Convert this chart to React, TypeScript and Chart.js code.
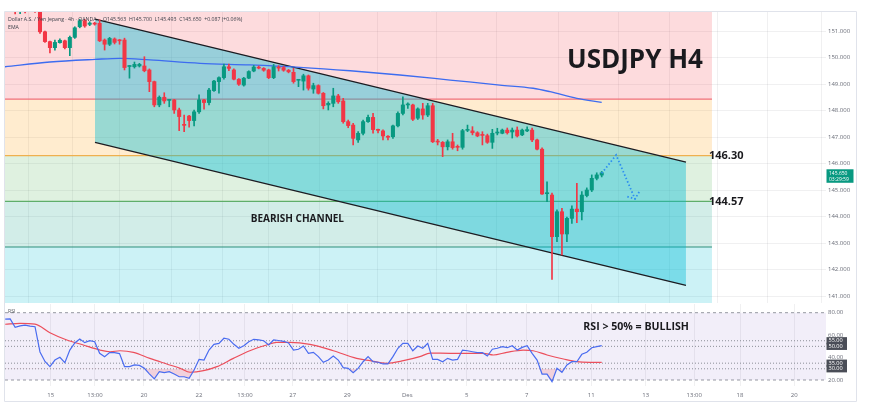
import React, { useEffect, useRef } from "react";
import { Chart, registerables } from "chart.js";

Chart.register(...registerables);

const FONT = "'Open Sans', 'Liberation Sans', sans-serif";

// ---------------- candle data (4h bars, bar number starts at FIRST_CANDLE) ----------------
const FIRST_CANDLE = 3;
const opens = [
  151.95, 151.85, 151.92, 151.8, 151.95, 151.85, 150.97, 150.6, 150.37, 150.56,
  150.63, 150.37, 150.76, 151.16, 151.39, 151.25, 151.29, 151.29, 150.66, 150.5,
  150.7, 150.66, 150.66, 149.66, 149.65, 149.68, 149.68, 149.53, 149.09, 148.21,
  148.5, 148.38, 148.4, 148.02, 147.47, 147.79, 147.62, 147.95, 148.4, 148.3,
  148.75, 149.09, 149.24, 149.65, 149.53, 149.18, 148.96, 149.22, 149.49, 149.63,
  149.59, 149.53, 149.24, 149.62, 149.62, 149.52, 149.44, 149.14, 149.11, 149.31,
  148.81, 148.94, 148.65, 148.21, 148.27, 148.55, 148.36, 147.58, 147.45, 146.89,
  147.14, 147.58, 147.74, 147.28, 147.23, 147.02, 147.01, 147.42, 147.89, 148.21,
  148.21, 147.71, 148.06, 147.83, 148.18, 146.84, 146.8, 146.63, 146.82, 146.64,
  146.61, 147.25, 147.23, 147.16, 147.09, 147.05, 146.8, 147.15, 147.14, 147.26,
  147.19, 147.26, 147.08, 147.23, 147.26, 146.89, 146.54, 144.86, 144.81, 143.24,
  144.18, 143.34, 143.93, 144.28, 144.18, 144.79, 145.0, 145.44, 145.563,
];
const highs = [
  152.05, 151.98, 152.1, 152.0, 152.1, 151.95, 151.0, 150.62, 150.66, 150.7,
  150.66, 150.81, 151.16, 151.44, 151.44, 151.35, 151.33, 151.42, 150.7, 150.76,
  150.74, 150.68, 150.73, 149.7, 149.83, 149.78, 150.03, 149.57, 149.11, 148.55,
  148.67, 148.42, 148.42, 148.09, 147.83, 147.82, 148.02, 148.59, 148.42, 148.84,
  149.14, 149.27, 149.75, 149.75, 149.57, 149.2, 149.25, 149.5, 149.7, 149.68,
  149.62, 149.56, 149.74, 149.69, 149.66, 149.55, 149.59, 149.17, 149.37, 149.34,
  149.03, 148.97, 148.68, 148.33, 148.84, 148.61, 148.46, 147.64, 147.52, 147.2,
  147.64, 147.83, 147.89, 147.3, 147.27, 147.05, 147.45, 147.95, 148.52, 148.29,
  148.24, 148.1, 148.27, 148.27, 148.27, 146.91, 146.83, 146.89, 147.14, 146.7,
  147.29, 147.45, 147.39, 147.2, 147.2, 147.11, 147.29, 147.33, 147.3, 147.34,
  147.34, 147.38, 147.3, 147.38, 147.34, 146.92, 146.59, 145.31, 144.88, 144.25,
  144.31, 143.98, 144.4, 145.25, 144.94, 145.08, 145.57, 145.65, 145.7,
];
const lows = [
  151.64, 151.65, 151.68, 151.74, 151.7, 150.91, 150.57, 150.17, 150.28, 150.54,
  150.32, 150.07, 150.72, 151.12, 151.14, 151.2, 151.22, 150.6, 150.28, 150.45,
  150.51, 150.5, 149.53, 149.22, 149.6, 149.64, 149.46, 148.71, 148.14, 148.14,
  148.27, 148.14, 147.89, 147.24, 147.2, 147.37, 147.42, 147.89, 148.05, 148.21,
  148.72, 148.65, 149.18, 149.5, 149.15, 148.95, 148.92, 149.2, 149.46, 149.57,
  149.48, 149.2, 149.2, 149.49, 149.48, 149.42, 149.03, 148.9, 148.77, 148.77,
  148.65, 148.62, 148.06, 148.02, 148.14, 148.27, 147.52, 147.35, 146.7, 146.8,
  147.08, 147.55, 147.14, 147.15, 146.89, 146.89, 146.95, 147.38, 147.83, 148.08,
  147.62, 147.66, 147.67, 147.77, 146.79, 146.7, 146.26, 146.51, 146.54, 146.48,
  146.54, 147.2, 147.08, 147.01, 146.7, 146.76, 146.57, 147.08, 147.12, 147.11,
  146.96, 147.0, 147.05, 147.2, 146.82, 146.51, 144.83, 144.56, 141.63, 143.05,
  142.55, 143.05, 143.74, 143.77, 143.87, 144.74, 144.94, 145.38, 145.493,
];
const closes = [
  151.85, 151.92, 151.8, 151.95, 151.85, 150.97, 150.6, 150.37, 150.57, 150.65,
  150.37, 150.76, 151.12, 151.39, 151.19, 151.3, 151.26, 150.63, 150.5, 150.72,
  150.57, 150.63, 149.62, 149.69, 149.74, 149.74, 149.5, 149.09, 148.21, 148.5,
  148.36, 148.41, 148.02, 147.77, 147.44, 147.62, 147.95, 148.4, 148.3, 148.77,
  149.11, 149.24, 149.65, 149.59, 149.18, 148.99, 149.22, 149.47, 149.64, 149.6,
  149.52, 149.24, 149.65, 149.6, 149.52, 149.46, 149.09, 149.16, 149.31, 148.84,
  148.94, 148.65, 148.18, 148.27, 148.55, 148.33, 147.58, 147.43, 146.95, 147.14,
  147.58, 147.74, 147.28, 147.25, 147.04, 146.99, 147.42, 147.89, 148.21, 148.24,
  147.67, 148.06, 147.83, 148.18, 146.82, 146.81, 146.63, 146.82, 146.6, 146.61,
  147.24, 147.28, 147.16, 147.04, 147.06, 146.8, 147.14, 147.18, 147.26, 147.16,
  147.26, 147.04, 147.26, 147.28, 146.89, 146.54, 144.85, 144.89, 143.24, 144.18,
  143.34, 143.93, 144.28, 144.18, 144.81, 145.0, 145.44, 145.57, 145.65,
];

// ---------------- EMA (read at sparse bars) ----------------
const emaIdx = [0.96, 10, 19.1, 24.1, 30.1, 40.2, 50.2, 60.3, 70.4, 80.4, 90.5, 100.5, 107.2, 110.6, 116, 121];
const emaVal = [149.65, 149.83, 149.93, 149.97, 149.91, 149.78, 149.72, 149.63, 149.5, 149.34, 149.15, 148.96, 148.84, 148.71, 148.46, 148.31];

// ---------------- drawings ----------------
const fibLevels = [148.43, 146.3, 144.57, 142.85];
const labeledLevels = [146.3, 144.57];
const BAND_START = 0.96;
const BAND_END = 143.18;

const channelIdx = [19.06, 137.95];
const channelUpper = [151.45, 146.05];
const channelLower = [146.8, 141.4];

const projIdx = [121, 123.9, 127.7];
const projVal = [145.63, 146.32, 144.66];
const arrowIdx = [126.15, 127.7, 128.56];
const arrowVal = [144.75, 144.66, 144.94];

// ---------------- RSI ----------------
const RSI_START = 1;
const rsiValues = [
  74.2, 74.5, 67.0, 68.2, 69.0, 68.1, 67.5, 45.0, 36.5, 31.9,
  37.8, 40.2, 35.4, 46.7, 53.0, 56.5, 53.3, 55.0, 54.1, 43.8,
  40.8, 44.4, 44.4, 43.5, 32.0, 31.9, 33.4, 33.0, 30.4, 25.5,
  21.0, 27.4, 26.5, 27.4, 25.3, 22.9, 22.9, 21.5, 28.9, 38.4,
  37.8, 46.7, 51.8, 52.6, 57.2, 56.3, 51.8, 48.3, 50.6, 54.1,
  56.3, 55.7, 55.0, 51.2, 55.7, 55.2, 54.5, 53.0, 46.7, 47.4,
  50.3, 43.8, 44.7, 40.8, 35.8, 37.8, 41.4, 37.8, 31.0, 30.4,
  26.5, 30.4, 36.3, 40.8, 36.3, 35.8, 34.3, 34.3, 40.8, 48.3,
  52.7, 52.7, 46.1, 50.3, 48.3, 52.7, 38.4, 38.4, 36.3, 39.3,
  37.8, 38.4, 46.7, 46.1, 45.2, 44.4, 44.4, 41.4, 47.4, 48.3,
  49.7, 48.8, 50.6, 46.7, 49.1, 50.6, 43.8, 37.8, 25.3, 25.3,
  18.5, 30.4, 26.9, 33.4, 36.3, 36.3, 42.9, 44.7, 48.8, 49.7, 50.6,
];
const rsiMaIdx = [1, 4, 7, 10, 13.4, 16.7, 20.1, 22.1, 24.1, 26.8, 30.1, 33.5, 36.2, 38.2, 40.9, 43.6, 46.9, 50.2, 53.6, 55.6, 58.3, 62.3, 67, 71.7, 74.4, 77.7, 81.1, 84.4, 86.5, 90.5, 93.2, 97.2, 99.2, 101.9, 105.2, 107.2, 110, 113.3, 116, 118.6, 121];
const rsiMaVal = [69.7, 70.5, 69.9, 62.2, 55.7, 51.2, 46.7, 45.2, 46.1, 44.7, 39.3, 34.3, 30.4, 26.9, 28.3, 31.9, 39.3, 46.1, 51.2, 53.6, 53.6, 51.8, 46.1, 39.3, 37.2, 34.9, 37.2, 40.8, 44.0, 43.8, 43.8, 43.8, 42.3, 44.7, 46.7, 46.1, 42.3, 38.7, 36.3, 35.8, 35.8];
const rsiBands = [80, 20];
const rsiDotted = [55, 50, 35, 30];
const rsiAxisTicks = [20, 40, 60, 80];

// ---------------- axes ----------------
const priceTicks = [141, 142, 143, 144, 145, 146, 147, 148, 149, 150, 151];
const timeTickIdx = [10.15, 19.06, 28.92, 39.99, 49.24, 58.83, 69.82, 81.89, 93.84, 105.91, 118.9, 129.85, 139.62, 148.82, 159.74];
const timeTickLabels = ["15", "13:00", "20", "22", "13:00", "27", "29", "Des", "5", "7", "11", "13", "13:00", "18", "20"];

const X_MIN = 0.96;
const X_MAX = 166.12;
const PRICE_MIN = 140.736;
const PRICE_MAX = 151.717;
const RSI_MIN = 14.65;
const RSI_MAX = 87.76;

// ---------------- styles ----------------
const UP = "#089981";
const DOWN = "#f23645";
const GRID = "rgba(42,46,57,0.07)";
const AXIS_TXT = "#6a6d78";
const levelColors = ["#f0707c", "#efb04e", "#5fae6a", "#2f8f7c"];
const bandColors = ["rgba(242,54,69,0.18)", "rgba(255,152,0,0.19)", "rgba(76,175,80,0.175)", "rgba(8,153,129,0.18)", "rgba(0,188,212,0.2)"];
const FRAME = "#e0e3eb";

function lineDs(points: { x: number; y: number }[], extra: any) {
  return { type: "line", data: points, pointRadius: 0, fill: false, clip: 0, ...extra };
}

const mainDecor = {
  id: "mainDecor",
  afterDraw(chart: any) {
    const { ctx, chartArea: a, scales } = chart;
    const xs = scales.x;
    const ys = scales.y;
    ctx.save();
    // frame
    ctx.strokeStyle = FRAME;
    ctx.lineWidth = 1;
    ctx.beginPath();
    ctx.moveTo(a.left - 0.5, chart.height);
    ctx.lineTo(a.left - 0.5, a.top - 0.5);
    ctx.lineTo(a.right + 30.5, a.top - 0.5);
    ctx.lineTo(a.right + 30.5, chart.height);
    ctx.stroke();

    // legend
    ctx.fillStyle = "#3d404a";
    ctx.font = `400 5.2px ${FONT}`;
    ctx.textAlign = "left";
    ctx.textBaseline = "middle";
    ctx.fillText("Dollar A.S. / Yen Jepang · 4h · OANDA", a.left + 3, 19.5);
    const last = closes.length - 1;
    ctx.fillText(
      `O${opens[last].toFixed(3)}  H${highs[last].toFixed(3)}  L${lows[last].toFixed(3)}  C${closes[last].toFixed(3)}  +0.087 (+0.06%)`,
      a.left + 98,
      19.5
    );
    ctx.fillText("EMA", a.left + 3, 27.5);

    // title
    ctx.fillStyle = "#1a1a1e";
    ctx.font = `700 26px ${FONT}`;
    ctx.textBaseline = "alphabetic";
    ctx.fillText("USDJPY H4", 567, 68.3);

    // level labels
    ctx.font = `700 11px ${FONT}`;
    const lx = xs.getPixelForValue(BAND_END) - 3;
    labeledLevels.forEach((v) => {
      ctx.fillText(v.toFixed(2), lx, ys.getPixelForValue(v) + 3.6);
    });

    // channel label
    ctx.font = `700 10px ${FONT}`;
    ctx.fillText("BEARISH CHANNEL", 250.7, 222.3);

    // last price tag
    const py = ys.getPixelForValue(closes[last]);
    ctx.fillStyle = UP;
    ctx.fillRect(a.right + 0.5, py - 3.5, 27, 13.5);
    ctx.fillStyle = "#ffffff";
    ctx.font = `400 5px ${FONT}`;
    ctx.textBaseline = "middle";
    ctx.fillText(closes[last].toFixed(3), a.right + 3, py + 0.6);
    ctx.fillText("03:29:59", a.right + 3, py + 6.4);
    ctx.restore();
  },
};

const rsiDecor = {
  id: "rsiDecor",
  afterDraw(chart: any) {
    const { ctx, chartArea: a, scales } = chart;
    const ys = scales.y;
    ctx.save();
    ctx.strokeStyle = FRAME;
    ctx.lineWidth = 1;
    ctx.beginPath();
    ctx.moveTo(a.left - 0.5, 0);
    ctx.lineTo(a.left - 0.5, 97.5);
    ctx.lineTo(a.right + 30.5, 97.5);
    ctx.lineTo(a.right + 30.5, 0);
    ctx.stroke();

    // level boxes on the axis
    ctx.fillStyle = "#4a4d57";
    rsiDotted.forEach((v) => {
      const py = ys.getPixelForValue(v);
      ctx.fillRect(a.right + 0.5, py - 3.6, 20.5, 7.2);
    });
    ctx.fillStyle = "#ffffff";
    ctx.font = `400 5.6px ${FONT}`;
    ctx.textAlign = "left";
    ctx.textBaseline = "middle";
    rsiDotted.forEach((v) => {
      ctx.fillText(v.toFixed(2), a.right + 2.5, ys.getPixelForValue(v));
    });

    ctx.fillStyle = "#55585f";
    ctx.font = `400 5.2px ${FONT}`;
    ctx.fillText("RSI", a.left + 3, 7.7);

    ctx.fillStyle = "#1a1a1e";
    ctx.font = `700 10.6px ${FONT}`;
    ctx.textBaseline = "alphabetic";
    ctx.fillText("RSI > 50% = BULLISH", 583.3, 26);
    ctx.restore();
  },
};

function buildMain() {
  const idx = opens.map((_, k) => FIRST_CANDLE + k);
  const colors = opens.map((o, k) => (closes[k] >= o ? UP : DOWN));
  const seg = (v: number) => [
    { x: BAND_START, y: v },
    { x: BAND_END, y: v },
  ];
  const ds: any[] = [];
  ds.push({
    type: "bar",
    data: opens.map((o, k) => ({ x: idx[k], y: [o, closes[k]] })),
    backgroundColor: colors,
    borderWidth: 0,
    barThickness: 3.4,
    minBarLength: 1,
    grouped: false,
    order: 1,
    clip: 0,
  });
  ds.push({
    type: "bar",
    data: lows.map((l, k) => ({ x: idx[k], y: [l, highs[k]] })),
    backgroundColor: colors,
    borderWidth: 0,
    barThickness: 1,
    grouped: false,
    order: 2,
    clip: 0,
  });
  ds.push(lineDs(projIdx.map((x, k) => ({ x, y: projVal[k] })), { borderColor: "#2e8ff0", borderWidth: 1.8, borderDash: [1.5, 2.2], order: 0 }));
  ds.push(lineDs(arrowIdx.map((x, k) => ({ x, y: arrowVal[k] })), { borderColor: "#2e8ff0", borderWidth: 1.8, borderDash: [1.5, 2.2], order: 0 }));
  ds.push(lineDs(emaIdx.map((x, k) => ({ x, y: emaVal[k] })), { borderColor: "#3d6cf0", borderWidth: 1.3, cubicInterpolationMode: "monotone", order: 3 }));
  const lowerIndex = ds.length;
  ds.push(lineDs(channelIdx.map((x, k) => ({ x, y: channelLower[k] })), { borderColor: "#1c1c22", borderWidth: 1.3, order: 5 }));
  ds.push(
    lineDs(channelIdx.map((x, k) => ({ x, y: channelUpper[k] })), {
      borderColor: "#1c1c22",
      borderWidth: 1.3,
      fill: lowerIndex,
      backgroundColor: "rgba(0,188,212,0.4)",
      order: 6,
    })
  );
  let prev = -1;
  fibLevels.forEach((lv, k) => {
    const here = ds.length;
    ds.push(
      lineDs(seg(lv), {
        borderColor: levelColors[k],
        borderWidth: 1.2,
        fill: k === 0 ? "end" : prev,
        backgroundColor: bandColors[k],
        order: 10 + k,
      })
    );
    prev = here;
  });
  ds.push(
    lineDs(seg(fibLevels[fibLevels.length - 1]), {
      borderColor: "rgba(0,0,0,0)",
      borderWidth: 0,
      fill: "start",
      backgroundColor: bandColors[4],
      order: 14,
    })
  );

  return {
    type: "line",
    data: { datasets: ds },
    options: {
      responsive: false,
      animation: false,
      devicePixelRatio: 1,
      layout: { autoPadding: false, padding: { left: 5, right: 13, top: 12, bottom: 1 } },
      plugins: {
        legend: { display: false },
        tooltip: { enabled: false },
        filler: { drawTime: "beforeDatasetDraw" },
      },
      elements: { point: { radius: 0 } },
      scales: {
        x: {
          type: "linear",
          min: X_MIN,
          max: X_MAX,
          offset: false,
          afterBuildTicks: (s: any) => {
            s.ticks = timeTickIdx.map((v) => ({ value: v }));
          },
          afterFit: (s: any) => {
            s.height = 0;
            s.paddingLeft = 0;
            s.paddingRight = 0;
          },
          ticks: { display: false },
          grid: { color: GRID, drawTicks: false },
          border: { display: false },
        },
        y: {
          position: "right",
          min: PRICE_MIN,
          max: PRICE_MAX,
          afterBuildTicks: (s: any) => {
            s.ticks = priceTicks.map((v) => ({ value: v }));
          },
          afterFit: (s: any) => {
            s.width = 31;
            s.paddingTop = 0;
            s.paddingBottom = 0;
          },
          ticks: {
            callback: (v: any) => Number(v).toFixed(3),
            font: { size: 6, family: FONT },
            color: AXIS_TXT,
            padding: 2,
          },
          grid: { color: GRID, drawTicks: false },
          border: { display: false },
        },
      },
    },
    plugins: [mainDecor],
  };
}

function buildRsi() {
  const full = (v: number) => [
    { x: X_MIN, y: v },
    { x: X_MAX, y: v },
  ];
  const ds: any[] = [];
  ds.push(
    lineDs(rsiValues.map((v, k) => ({ x: RSI_START + k, y: v })), {
      borderColor: "#4a6cf0",
      borderWidth: 1.2,
      fill: { target: { value: 30 }, above: "rgba(0,0,0,0)", below: "rgba(242,54,69,0.16)" },
      order: 1,
    })
  );
  ds.push(lineDs(rsiMaIdx.map((x, k) => ({ x, y: rsiMaVal[k] })), { borderColor: "#ec4f5c", borderWidth: 1.2, cubicInterpolationMode: "monotone", order: 2 }));
  rsiDotted.forEach((v) => {
    ds.push(lineDs(full(v), { borderColor: "#8c8f98", borderWidth: 1, borderDash: [1, 2], order: 4 }));
  });
  const topIndex = ds.length;
  ds.push(lineDs(full(rsiBands[0]), { borderColor: "#9598a1", borderWidth: 1, borderDash: [3, 3], order: 6 }));
  ds.push(
    lineDs(full(rsiBands[1]), {
      borderColor: "#9598a1",
      borderWidth: 1,
      borderDash: [3, 3],
      fill: topIndex,
      backgroundColor: "rgba(126,87,194,0.1)",
      order: 7,
    })
  );

  return {
    type: "line",
    data: { datasets: ds },
    options: {
      responsive: false,
      animation: false,
      devicePixelRatio: 1,
      layout: { autoPadding: false, padding: { left: 5, right: 13, top: 0, bottom: 17 } },
      plugins: {
        legend: { display: false },
        tooltip: { enabled: false },
        filler: { drawTime: "beforeDatasetDraw" },
      },
      elements: { point: { radius: 0 } },
      scales: {
        x: {
          type: "linear",
          min: X_MIN,
          max: X_MAX,
          offset: false,
          afterBuildTicks: (s: any) => {
            s.ticks = timeTickIdx.map((v) => ({ value: v }));
          },
          afterFit: (s: any) => {
            s.height = 16;
            s.paddingLeft = 0;
            s.paddingRight = 0;
          },
          ticks: {
            autoSkip: false,
            maxRotation: 0,
            minRotation: 0,
            callback: (_v: any, i: number) => timeTickLabels[i],
            font: { size: 6, family: FONT },
            color: AXIS_TXT,
            padding: 6,
          },
          grid: { color: GRID, drawTicks: false },
          border: { display: false },
        },
        y: {
          position: "right",
          min: RSI_MIN,
          max: RSI_MAX,
          afterBuildTicks: (s: any) => {
            s.ticks = rsiAxisTicks.map((v) => ({ value: v }));
          },
          afterFit: (s: any) => {
            s.width = 31;
            s.paddingTop = 0;
            s.paddingBottom = 0;
          },
          ticks: {
            callback: (v: any) => Number(v).toFixed(2),
            font: { size: 6, family: FONT },
            color: AXIS_TXT,
            padding: 2,
          },
          grid: { display: false, drawTicks: false },
          border: { display: false },
        },
      },
    },
    plugins: [rsiDecor],
  };
}

export default function App() {
  const mainRef = useRef<HTMLCanvasElement | null>(null);
  const rsiRef = useRef<HTMLCanvasElement | null>(null);

  useEffect(() => {
    Chart.defaults.font.family = FONT;
    const main = new Chart(mainRef.current as HTMLCanvasElement, buildMain() as any);
    const rsi = new Chart(rsiRef.current as HTMLCanvasElement, buildRsi() as any);
    return () => {
      main.destroy();
      rsi.destroy();
    };
  }, []);

  return (
    <div style={{ position: "fixed", left: 0, top: 0, width: 870, height: 419, background: "#ffffff", overflow: "hidden" }}>
      <canvas ref={mainRef} width={870} height={304} style={{ position: "absolute", left: 0, top: 0, width: 870, height: 304 }} />
      <canvas ref={rsiRef} width={870} height={115} style={{ position: "absolute", left: 0, top: 304, width: 870, height: 115 }} />
    </div>
  );
}
